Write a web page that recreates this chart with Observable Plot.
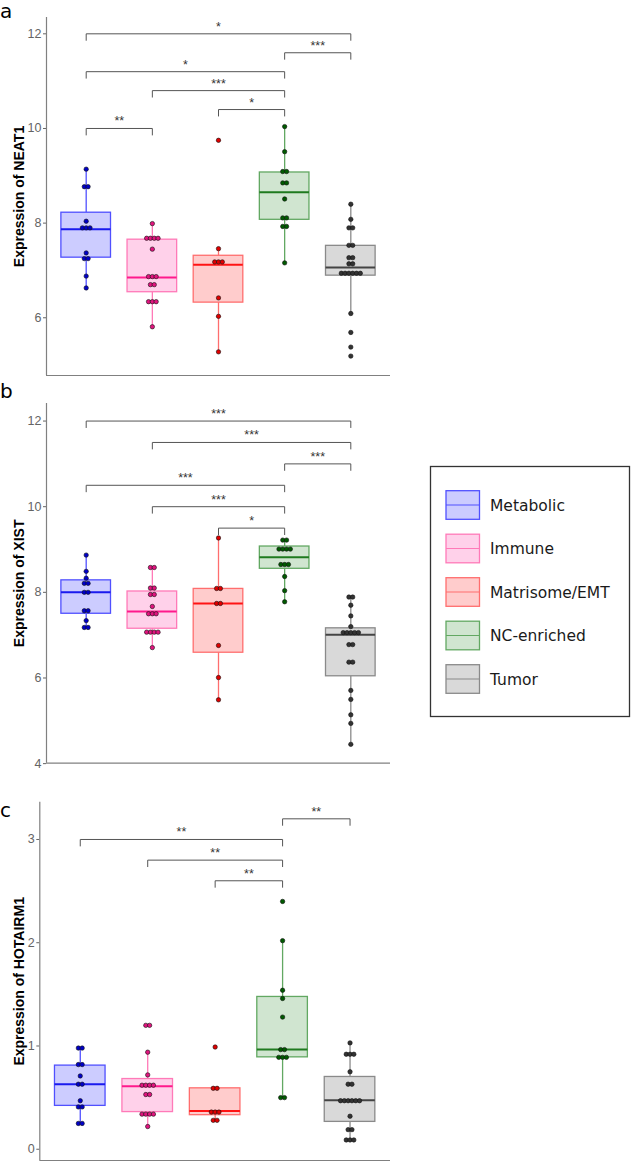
<!DOCTYPE html>
<html><head><meta charset="utf-8">
<script src="https://cdn.jsdelivr.net/npm/d3@7"></script>
<script src="https://cdn.jsdelivr.net/npm/@observablehq/plot@0.6"></script>
<style>
body{margin:0;background:#fff;}
#wrap{position:relative;width:632px;height:1161px;overflow:hidden;background:#fff;}
#wrap > svg{position:absolute;}
</style></head><body><div id="wrap"></div>
<script>
// ---------- data ----------
const groups = ["Metabolic", "Immune", "Matrisome/EMT", "NC-enriched", "Tumor"];

// Panel a: NEAT1
const neat1Metabolic = [9.14, 8.77, 8.77, 8.04, 7.90, 7.90, 7.90, 7.37, 7.25, 7.25, 6.88, 6.63];
const neat1Immune = [7.99, 7.68, 7.68, 7.68, 7.68, 7.45, 6.87, 6.87, 6.87, 6.70, 6.70, 6.34, 6.34, 6.34, 5.81];
const neat1Matrisome = [9.75, 7.46, 7.18, 7.18, 7.18, 6.42, 6.03, 5.28];
const neat1NC = [10.04, 9.51, 9.09, 9.09, 8.85, 8.85, 8.51, 8.11, 8.11, 7.93, 7.93, 7.16];
const neat1Tumor = [8.40, 8.08, 7.90, 7.90, 7.53, 7.53, 7.27, 7.27, 7.14, 7.14, 6.94, 6.94, 6.94, 6.94, 6.94, 6.94, 6.09, 5.69, 5.38, 5.19];
const neat1Q1 = [7.27, 6.54, 6.32, 8.07, 6.89];
const neat1Median = [7.87, 6.85, 7.12, 8.65, 7.06];
const neat1Q3 = [8.22, 7.65, 7.31, 9.07, 7.52];
const neat1Low = [6.63, 5.81, 5.28, 7.16, 6.09];
const neat1High = [9.14, 7.99, 7.46, 10.04, 8.40];
const neat1BrFrom = [0, 3, 0, 1, 2, 0];
const neat1BrTo = [4, 4, 3, 3, 3, 1];
const neat1BrY = [12.0, 11.6, 11.2, 10.8, 10.4, 10.0];
const neat1BrLabel = ["*", "***", "*", "***", "*", "**"];
const neat1Ticks = [6, 8, 10, 12];

// Panel b: XIST
const xistMetabolic = [8.87, 8.49, 8.33, 8.21, 8.21, 8.00, 8.00, 7.57, 7.57, 7.34, 7.18, 7.18];
const xistImmune = [8.58, 8.58, 8.10, 8.10, 7.95, 7.95, 7.67, 7.50, 7.50, 7.50, 7.07, 7.07, 7.07, 7.07, 6.71];
const xistMatrisome = [9.27, 8.09, 8.09, 7.74, 7.74, 6.76, 6.01, 5.49];
const xistNC = [9.22, 9.22, 9.01, 9.01, 9.01, 9.01, 8.65, 8.65, 8.65, 8.37, 8.04, 7.78];
const xistTumor = [7.89, 7.89, 7.70, 7.45, 7.20, 7.06, 7.06, 7.06, 7.06, 7.06, 6.78, 6.78, 6.37, 6.37, 5.71, 5.50, 5.14, 4.94, 4.45];
const xistQ1 = [7.50, 7.15, 6.59, 8.55, 6.04];
const xistMedian = [8.00, 7.55, 7.74, 8.82, 7.01];
const xistQ3 = [8.28, 8.02, 8.08, 9.07, 7.16];
const xistLow = [7.18, 6.71, 5.49, 7.78, 4.45];
const xistHigh = [8.87, 8.58, 9.27, 9.22, 7.89];
const xistBrFrom = [0, 1, 3, 0, 1, 2];
const xistBrTo = [4, 4, 4, 3, 3, 3];
const xistBrY = [12.0, 11.5, 11.0, 10.5, 10.0, 9.5];
const xistBrLabel = ["***", "***", "***", "***", "***", "*"];
const xistTicks = [4, 6, 8, 10, 12];

// Panel c: HOTAIRM1
const hotMetabolic = [0.98, 0.98, 0.82, 0.82, 0.71, 0.63, 0.63, 0.47, 0.41, 0.41, 0.25, 0.25];
const hotImmune = [1.20, 1.20, 0.94, 0.72, 0.62, 0.62, 0.62, 0.62, 0.53, 0.53, 0.34, 0.34, 0.34, 0.34, 0.22];
const hotMatrisome = [0.99, 0.59, 0.59, 0.36, 0.36, 0.36, 0.28, 0.28];
const hotNC = [2.40, 2.02, 1.54, 1.46, 1.28, 0.965, 0.965, 0.89, 0.89, 0.89, 0.50, 0.50];
const hotTumor = [1.03, 0.92, 0.92, 0.92, 0.75, 0.63, 0.63, 0.47, 0.47, 0.47, 0.47, 0.47, 0.47, 0.32, 0.19, 0.19, 0.09, 0.09, 0.09];
const hotQ1 = [0.42, 0.36, 0.33, 0.89, 0.265];
const hotMedian = [0.63, 0.61, 0.37, 0.965, 0.475];
const hotQ3 = [0.81, 0.68, 0.59, 1.475, 0.70];
const hotLow = [0.25, 0.22, 0.28, 0.50, 0.09];
const hotHigh = [0.98, 0.94, 0.59, 2.02, 1.03];
const hotBrFrom = [3, 0, 1, 2];
const hotBrTo = [4, 3, 3, 3];
const hotBrY = [3.2, 3.0, 2.8, 2.6];
const hotBrLabel = ["**", "**", "**", "**"];
const hotTicks = [0, 1, 2, 3];

// ---------- styles ----------
const boxFill = ["#ccccff", "#ffd1ea", "#ffcccc", "#d0e5d0", "#d9d9d9"];
const boxStroke = ["#5050ff", "#ff7ab8", "#ff6e6e", "#62a862", "#8a8a8a"];
const medStroke = ["#1a1aee", "#ff1a8c", "#ff1414", "#1f7a1f", "#444444"];
const dotFill = ["#0000c8", "#e0147e", "#e00000", "#005a00", "#333333"];
const FONT = "'Liberation Sans', Arial, sans-serif";
const DOT_STEP = 3.8;   // px between side-by-side dots
const TIP_PX = 6.5;     // bracket tip length px
const BOX_W = 0.75;

const wrap = document.getElementById("wrap");

function panel(cfg) {
  const width = 395, marginRight = 5;
  const xDomain = [-0.6, 4.6];
  const plotW = width - cfg.marginLeft - marginRight;
  const plotH = cfg.height - cfg.marginTop - cfg.marginBottom;
  const stepX = DOT_STEP / (plotW / (xDomain[1] - xDomain[0]));
  const tipY = TIP_PX / (plotH / (cfg.yDomain[1] - cfg.yDomain[0]));

  const dots = [];
  cfg.points.forEach((vals, i) => {
    const counts = d3.rollup(vals, v => v.length, v => v);
    const seen = new Map();
    vals.forEach(v => {
      const n = counts.get(v), k = seen.get(v) || 0;
      seen.set(v, k + 1);
      dots.push({i, x: i + (k - (n - 1) / 2) * stepX, y: v});
    });
  });
  const boxes = groups.map((g, i) => ({i, g, q1: cfg.q1[i], med: cfg.med[i], q3: cfg.q3[i], lo: cfg.lo[i], hi: cfg.hi[i]}));
  const brk = cfg.brFrom.map((f, j) => ({id: j, f, t: cfg.brTo[j], y: cfg.brY[j], label: cfg.brLabel[j]}));
  const brkPath = brk.flatMap(b => [
    {id: b.id, x: b.f, y: b.y - tipY}, {id: b.id, x: b.f, y: b.y},
    {id: b.id, x: b.t, y: b.y}, {id: b.id, x: b.t, y: b.y - tipY}]);

  const svg = Plot.plot({
    width, height: cfg.height,
    marginTop: cfg.marginTop, marginBottom: cfg.marginBottom,
    marginLeft: cfg.marginLeft, marginRight,
    style: {fontFamily: FONT, fontSize: "12.5px", color: "#646464", background: "transparent", overflow: "visible"},
    x: {domain: xDomain, axis: null},
    y: {domain: cfg.yDomain, ticks: cfg.ticks, tickFormat: d3.format("d"), tickSize: 3, tickPadding: 2, label: null},
    color: {type: "identity"},
    marks: [
      Plot.ruleX(boxes, {x: "i", y1: "lo", y2: "q1", stroke: d => boxStroke[d.i], strokeWidth: 1.3}),
      Plot.ruleX(boxes, {x: "i", y1: "q3", y2: "hi", stroke: d => boxStroke[d.i], strokeWidth: 1.3}),
      Plot.rect(boxes, {x1: d => d.i - BOX_W / 2, x2: d => d.i + BOX_W / 2, y1: "q1", y2: "q3",
        fill: d => boxFill[d.i], stroke: d => boxStroke[d.i], strokeWidth: 1.3}),
      Plot.ruleY(boxes, {y: "med", x1: d => d.i - BOX_W / 2, x2: d => d.i + BOX_W / 2,
        stroke: d => medStroke[d.i], strokeWidth: 2}),
      Plot.dot(dots, {x: "x", y: "y", r: 2.2, fill: d => dotFill[d.i], stroke: "#111", strokeWidth: 0.6}),
      Plot.line(brkPath, {x: "x", y: "y", z: "id", stroke: "#555", strokeWidth: 1}),
      Plot.text(brk, {x: d => (d.f + d.t) / 2, y: "y", text: "label", dy: -3, lineAnchor: "bottom",
        fontSize: 12.5, fill: "#333"}),
      Plot.ruleX([xDomain[0]], {stroke: "#808080", strokeWidth: 1.2}),
      Plot.ruleY([cfg.yDomain[0]], {stroke: "#808080", strokeWidth: 1.2}),
      Plot.text([cfg.title], {text: d => d, frameAnchor: "left", dx: -(cfg.marginLeft - 19), rotate: -90,
        fontSize: 14, fontWeight: "bold", fill: "#000", textAnchor: "middle", lineAnchor: "middle"})
    ]
  });
  svg.style.left = "0px";
  svg.style.top = cfg.top + "px";
  wrap.appendChild(svg);
}

panel({top: 0, height: 385, marginTop: 17, marginBottom: 10, marginLeft: 46,
  yDomain: [4.78, 12.345], ticks: neat1Ticks, title: "Expression of NEAT1",
  points: [neat1Metabolic, neat1Immune, neat1Matrisome, neat1NC, neat1Tumor],
  q1: neat1Q1, med: neat1Median, q3: neat1Q3, lo: neat1Low, hi: neat1High,
  brFrom: neat1BrFrom, brTo: neat1BrTo, brY: neat1BrY, brLabel: neat1BrLabel});

panel({top: 384, height: 390, marginTop: 19, marginBottom: 11.3, marginLeft: 46,
  yDomain: [4.01, 12.41], ticks: xistTicks, title: "Expression of XIST",
  points: [xistMetabolic, xistImmune, xistMatrisome, xistNC, xistTumor],
  q1: xistQ1, med: xistMedian, q3: xistQ3, lo: xistLow, hi: xistHigh,
  brFrom: xistBrFrom, brTo: xistBrTo, brY: xistBrY, brLabel: xistBrLabel});

panel({top: 790, height: 371, marginTop: 11.7, marginBottom: 1, marginLeft: 39.3,
  yDomain: [-0.109, 3.361], ticks: hotTicks, title: "Expression of HOTAIRM1",
  points: [hotMetabolic, hotImmune, hotMatrisome, hotNC, hotTumor],
  q1: hotQ1, med: hotMedian, q3: hotQ3, lo: hotLow, hi: hotHigh,
  brFrom: hotBrFrom, brTo: hotBrTo, brY: hotBrY, brLabel: hotBrLabel});

// ---------- overlay: panel letters + legend ----------
const ov = d3.select(wrap).append("svg")
  .attr("width", 632).attr("height", 1161)
  .style("left", "0px").style("top", "0px").style("pointer-events", "none");

const letters = [["a", 18], ["b", 398], ["c", 817]];
ov.selectAll("text.letter").data(letters).join("text")
  .attr("class", "letter").attr("x", 0).attr("y", d => d[1])
  .attr("font-family", "'DejaVu Sans', sans-serif").attr("font-size", 20).attr("fill", "#000")
  .text(d => d[0]);

const lg = ov.append("g");
lg.append("rect").attr("x", 430.5).attr("y", 466.5).attr("width", 199).attr("height", 250)
  .attr("fill", "#fff").attr("stroke", "#333").attr("stroke-width", 1.3);
const keys = lg.selectAll("g.key").data(groups).join("g").attr("class", "key")
  .attr("transform", (d, i) => `translate(0,${505 + i * 43.5})`);
keys.append("rect").attr("x", 446).attr("y", -14.3).attr("width", 33.5).attr("height", 28.6)
  .attr("fill", (d, i) => boxFill[i]).attr("stroke", (d, i) => boxStroke[i]).attr("stroke-width", 1.3);
keys.append("line").attr("x1", 446).attr("x2", 479.5).attr("y1", 0).attr("y2", 0)
  .attr("stroke", (d, i) => boxStroke[i]).attr("stroke-width", 1.1);
keys.append("text").attr("x", 490).attr("y", 0).attr("dy", "0.36em")
  .attr("font-family", "'DejaVu Sans', sans-serif").attr("font-size", 15.5).attr("fill", "#1a1a1a")
  .text(d => d);
</script>
</body></html>
